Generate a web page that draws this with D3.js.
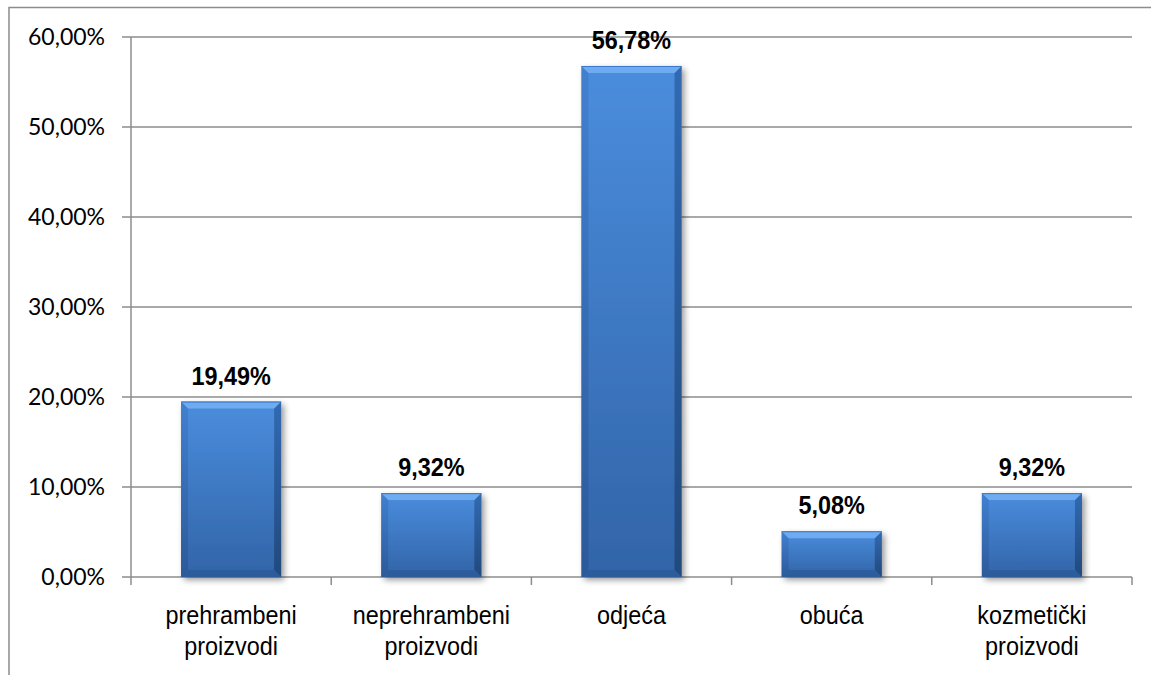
<!DOCTYPE html>
<html>
<head>
<meta charset="utf-8">
<script src="https://cdn.jsdelivr.net/npm/d3@7"></script>
<style>
  html, body { margin: 0; padding: 0; background: #fff; }
  svg { display: block; }
</style>
</head>
<body>
<svg id="chart" width="1151" height="675"></svg>
<script>
// Chart data
const categories = ["prehrambeni proizvodi", "neprehrambeni proizvodi", "odjeća", "obuća", "kozmetički proizvodi"];
const categoryLines = [["prehrambeni", "proizvodi"], ["neprehrambeni", "proizvodi"], ["odjeća"], ["obuća"], ["kozmetički", "proizvodi"]];
const values = [19.49, 9.32, 56.78, 5.08, 9.32];
const valueLabels = ["19,49%", "9,32%", "56,78%", "5,08%", "9,32%"];
const yTicks = [0, 10, 20, 30, 40, 50, 60];
const yTickLabels = ["0,00%", "10,00%", "20,00%", "30,00%", "40,00%", "50,00%", "60,00%"];

const svg = d3.select("#chart");
const W = 1151, H = 675;
const plot = { left: 131, right: 1132, top: 37, bottom: 577 };
const gridColor = "#8c8c8c";
const sans = "'Liberation Sans', Arial, sans-serif";

// outer frame of the chart area (continues past the right and bottom edges)
svg.append("rect")
  .attr("x", 9).attr("y", 7.5)
  .attr("width", W + 20).attr("height", H + 20)
  .attr("fill", "#fff")
  .attr("stroke", gridColor).attr("stroke-width", 1.5);

const x = d3.scaleBand().domain(categories).range([plot.left, plot.right]).paddingInner(0.5).paddingOuter(0.25);
const y = d3.scaleLinear().domain([0, 60]).range([plot.bottom, plot.top]);

const defs = svg.append("defs");
const body = defs.append("linearGradient").attr("id", "barBody").attr("x1", 0).attr("y1", 0).attr("x2", 0).attr("y2", 1);
body.append("stop").attr("offset", "0%").attr("stop-color", "#4a8ddd");
body.append("stop").attr("offset", "100%").attr("stop-color", "#3264a8");
const sideL = defs.append("linearGradient").attr("id", "barLeft").attr("x1", 0).attr("y1", 0).attr("x2", 0).attr("y2", 1);
sideL.append("stop").attr("offset", "0%").attr("stop-color", "#3f7ccc");
sideL.append("stop").attr("offset", "100%").attr("stop-color", "#2a5595");
const sideR = defs.append("linearGradient").attr("id", "barRight").attr("x1", 0).attr("y1", 0).attr("x2", 0).attr("y2", 1);
sideR.append("stop").attr("offset", "0%").attr("stop-color", "#2f66ad");
sideR.append("stop").attr("offset", "100%").attr("stop-color", "#1f4677");
const shadow = defs.append("filter").attr("id", "shadow").attr("x", "-20%").attr("y", "-20%").attr("width", "140%").attr("height", "140%");
shadow.append("feGaussianBlur").attr("in", "SourceAlpha").attr("stdDeviation", 3).attr("result", "b");
shadow.append("feOffset").attr("in", "b").attr("dx", 3).attr("dy", 3).attr("result", "o");
shadow.append("feComponentTransfer").attr("in", "o").attr("result", "s")
  .append("feFuncA").attr("type", "linear").attr("slope", 0.4);
const merge = shadow.append("feMerge");
merge.append("feMergeNode").attr("in", "s");
merge.append("feMergeNode").attr("in", "SourceGraphic");

// horizontal gridlines with left ticks
svg.append("g").selectAll("line").data(yTicks).join("line")
  .attr("x1", plot.left - 9).attr("x2", plot.right)
  .attr("y1", d => y(d)).attr("y2", d => y(d))
  .attr("stroke", gridColor).attr("stroke-width", 1.5);

// y axis line
svg.append("line")
  .attr("x1", plot.left).attr("x2", plot.left)
  .attr("y1", plot.top).attr("y2", plot.bottom + 8)
  .attr("stroke", gridColor).attr("stroke-width", 1.5);

// category boundary ticks below the axis
const bounds = categories.map(c => x(c) - x.step() * x.paddingInner() / 2).concat([plot.right]);
svg.append("g").selectAll("line").data(bounds.slice(1)).join("line")
  .attr("x1", d => d).attr("x2", d => d)
  .attr("y1", plot.bottom).attr("y2", plot.bottom + 8)
  .attr("stroke", gridColor).attr("stroke-width", 1.5);

// y tick labels
svg.append("g").selectAll("text").data(yTicks).join("text")
  .attr("x", 105).attr("y", d => y(d) + 8)
  .attr("text-anchor", "end")
  .attr("font-family", "Lato, 'Open Sans', sans-serif")
  .attr("font-size", 23)
  .attr("fill", "#000")
  .text((d, i) => yTickLabels[i]);

// bevelled bars
const bw = x.bandwidth();
const bev = 7;
const bars = svg.append("g").selectAll("g").data(values).join("g")
  .attr("transform", (d, i) => `translate(${x(categories[i])},${y(d)})`);
bars.each(function(d) {
  const g = d3.select(this);
  const h = y(0) - y(d);
  g.append("rect").attr("width", bw).attr("height", h).attr("fill", "url(#barBody)").attr("filter", "url(#shadow)");
  g.append("polygon").attr("points", `0,0 ${bev},${bev} ${bev},${h - bev} 0,${h}`).attr("fill", "url(#barLeft)").attr("opacity", 0.75);
  g.append("polygon").attr("points", `${bw},0 ${bw - bev},${bev} ${bw - bev},${h - bev} ${bw},${h}`).attr("fill", "url(#barRight)").attr("opacity", 0.9);
  g.append("polygon").attr("points", `0,${h} ${bev},${h - bev} ${bw - bev},${h - bev} ${bw},${h}`).attr("fill", "#2b5a98").attr("opacity", 0.8);
  g.append("polygon").attr("points", `0,0 ${bw},0 ${bw - bev},${bev} ${bev},${bev}`).attr("fill", "#6eabf0");
  g.append("line").attr("x1", 0).attr("x2", bw).attr("y1", 0.5).attr("y2", 0.5).attr("stroke", "#3a78c8").attr("stroke-width", 1);
});

// value labels (condensed bold)
svg.append("g").selectAll("text").data(values).join("text")
  .attr("transform", (d, i) => `translate(${x(categories[i]) + bw / 2},${y(d) - 17}) scale(0.9,1)`)
  .attr("text-anchor", "middle")
  .attr("font-family", sans)
  .attr("font-weight", "bold")
  .attr("font-size", 26)
  .attr("fill", "#000")
  .text((d, i) => valueLabels[i]);

// category labels (condensed)
const catG = svg.append("g").selectAll("g").data(categories).join("g")
  .attr("transform", d => `translate(${x(d) + bw / 2},0)`);
catG.each(function(d, i) {
  const t = d3.select(this).append("text")
    .attr("text-anchor", "middle")
    .attr("font-family", sans)
    .attr("font-size", 26)
    .attr("fill", "#000")
    .attr("transform", "scale(0.9,1)");
  categoryLines[i].forEach((line, k) => {
    t.append("tspan").attr("x", 0).attr("y", 624 + k * 31).text(line);
  });
});
</script>
</body>
</html>
